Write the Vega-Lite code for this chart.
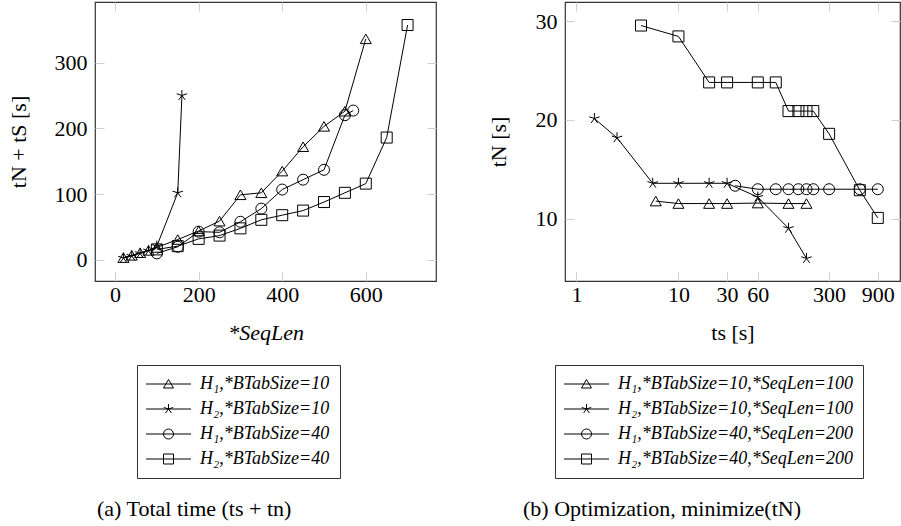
{
  "$schema": "https://vega.github.io/schema/vega-lite/v6.json",
  "background": "white",
  "autosize": {"type": "pad"},
  "padding": {"left": 6, "top": 0, "right": 0, "bottom": 0},
  "config": {
    "view": {"stroke": "#333", "strokeWidth": 1.2},
    "font": "Liberation Serif",
    "axis": {
      "labelFont": "Liberation Serif", "titleFont": "Liberation Serif",
      "labelFontSize": 22, "titleFontSize": 22, "labelColor": "black", "titleColor": "black",
      "titleFontWeight": "normal", "grid": false, "domain": false,
      "tickColor": "#cfcfcf", "tickSize": -9, "tickWidth": 1,
      "labelFlush": false, "labelOverlap": false
    },
    "title": {"font": "Liberation Serif", "fontSize": 22, "fontWeight": "normal", "color": "black"}
  },
  "datasets": {
    "a": [
      {"s": "H₁,*BTabSize=10", "x": 20, "y": 3.5},
      {"s": "H₁,*BTabSize=10", "x": 40, "y": 7},
      {"s": "H₁,*BTabSize=10", "x": 60, "y": 11},
      {"s": "H₁,*BTabSize=10", "x": 80, "y": 14.5},
      {"s": "H₁,*BTabSize=10", "x": 100, "y": 19},
      {"s": "H₁,*BTabSize=10", "x": 150, "y": 31},
      {"s": "H₁,*BTabSize=10", "x": 200, "y": 44},
      {"s": "H₁,*BTabSize=10", "x": 250, "y": 59},
      {"s": "H₁,*BTabSize=10", "x": 300, "y": 99},
      {"s": "H₁,*BTabSize=10", "x": 350, "y": 102},
      {"s": "H₁,*BTabSize=10", "x": 400, "y": 135},
      {"s": "H₁,*BTabSize=10", "x": 450, "y": 172},
      {"s": "H₁,*BTabSize=10", "x": 500, "y": 203},
      {"s": "H₁,*BTabSize=10", "x": 550, "y": 226},
      {"s": "H₁,*BTabSize=10", "x": 600, "y": 336},
      {"s": "H₂,*BTabSize=10", "x": 20, "y": 3},
      {"s": "H₂,*BTabSize=10", "x": 40, "y": 6},
      {"s": "H₂,*BTabSize=10", "x": 60, "y": 10},
      {"s": "H₂,*BTabSize=10", "x": 80, "y": 14},
      {"s": "H₂,*BTabSize=10", "x": 100, "y": 21},
      {"s": "H₂,*BTabSize=10", "x": 150, "y": 102},
      {"s": "H₂,*BTabSize=10", "x": 160, "y": 250},
      {"s": "H₁,*BTabSize=40", "x": 100, "y": 10},
      {"s": "H₁,*BTabSize=40", "x": 150, "y": 20},
      {"s": "H₁,*BTabSize=40", "x": 200, "y": 43},
      {"s": "H₁,*BTabSize=40", "x": 250, "y": 42},
      {"s": "H₁,*BTabSize=40", "x": 300, "y": 58},
      {"s": "H₁,*BTabSize=40", "x": 350, "y": 78},
      {"s": "H₁,*BTabSize=40", "x": 400, "y": 107},
      {"s": "H₁,*BTabSize=40", "x": 450, "y": 122},
      {"s": "H₁,*BTabSize=40", "x": 500, "y": 137},
      {"s": "H₁,*BTabSize=40", "x": 550, "y": 220},
      {"s": "H₁,*BTabSize=40", "x": 570, "y": 227},
      {"s": "H₂,*BTabSize=40", "x": 100, "y": 16},
      {"s": "H₂,*BTabSize=40", "x": 150, "y": 21},
      {"s": "H₂,*BTabSize=40", "x": 200, "y": 32},
      {"s": "H₂,*BTabSize=40", "x": 250, "y": 37},
      {"s": "H₂,*BTabSize=40", "x": 300, "y": 48},
      {"s": "H₂,*BTabSize=40", "x": 350, "y": 61},
      {"s": "H₂,*BTabSize=40", "x": 400, "y": 68},
      {"s": "H₂,*BTabSize=40", "x": 450, "y": 75},
      {"s": "H₂,*BTabSize=40", "x": 500, "y": 88},
      {"s": "H₂,*BTabSize=40", "x": 550, "y": 102},
      {"s": "H₂,*BTabSize=40", "x": 600, "y": 116},
      {"s": "H₂,*BTabSize=40", "x": 650, "y": 186},
      {"s": "H₂,*BTabSize=40", "x": 700, "y": 357}
    ],
    "b": [
      {"s": "H₁,*BTabSize=10,*SeqLen=100", "x": 6, "y": 11.8},
      {"s": "H₁,*BTabSize=10,*SeqLen=100", "x": 10, "y": 11.55},
      {"s": "H₁,*BTabSize=10,*SeqLen=100", "x": 20, "y": 11.55},
      {"s": "H₁,*BTabSize=10,*SeqLen=100", "x": 30, "y": 11.55},
      {"s": "H₁,*BTabSize=10,*SeqLen=100", "x": 60, "y": 11.6},
      {"s": "H₁,*BTabSize=10,*SeqLen=100", "x": 120, "y": 11.55},
      {"s": "H₁,*BTabSize=10,*SeqLen=100", "x": 180, "y": 11.55},
      {"s": "H₂,*BTabSize=10,*SeqLen=100", "x": 1.5, "y": 20.15},
      {"s": "H₂,*BTabSize=10,*SeqLen=100", "x": 2.5, "y": 18.2},
      {"s": "H₂,*BTabSize=10,*SeqLen=100", "x": 5.6, "y": 13.6},
      {"s": "H₂,*BTabSize=10,*SeqLen=100", "x": 10, "y": 13.6},
      {"s": "H₂,*BTabSize=10,*SeqLen=100", "x": 20, "y": 13.6},
      {"s": "H₂,*BTabSize=10,*SeqLen=100", "x": 30, "y": 13.6},
      {"s": "H₂,*BTabSize=10,*SeqLen=100", "x": 60, "y": 12.2},
      {"s": "H₂,*BTabSize=10,*SeqLen=100", "x": 120, "y": 9.05},
      {"s": "H₂,*BTabSize=10,*SeqLen=100", "x": 180, "y": 6.0},
      {"s": "H₁,*BTabSize=40,*SeqLen=200", "x": 36, "y": 13.35},
      {"s": "H₁,*BTabSize=40,*SeqLen=200", "x": 60, "y": 13.0},
      {"s": "H₁,*BTabSize=40,*SeqLen=200", "x": 90, "y": 13.0},
      {"s": "H₁,*BTabSize=40,*SeqLen=200", "x": 120, "y": 13.0},
      {"s": "H₁,*BTabSize=40,*SeqLen=200", "x": 150, "y": 13.0},
      {"s": "H₁,*BTabSize=40,*SeqLen=200", "x": 180, "y": 13.0},
      {"s": "H₁,*BTabSize=40,*SeqLen=200", "x": 210, "y": 13.0},
      {"s": "H₁,*BTabSize=40,*SeqLen=200", "x": 300, "y": 13.0},
      {"s": "H₁,*BTabSize=40,*SeqLen=200", "x": 600, "y": 13.0},
      {"s": "H₁,*BTabSize=40,*SeqLen=200", "x": 900, "y": 13.0},
      {"s": "H₂,*BTabSize=40,*SeqLen=200", "x": 4.3, "y": 29.55},
      {"s": "H₂,*BTabSize=40,*SeqLen=200", "x": 10, "y": 28.45},
      {"s": "H₂,*BTabSize=40,*SeqLen=200", "x": 20, "y": 23.8},
      {"s": "H₂,*BTabSize=40,*SeqLen=200", "x": 30, "y": 23.8},
      {"s": "H₂,*BTabSize=40,*SeqLen=200", "x": 60, "y": 23.8},
      {"s": "H₂,*BTabSize=40,*SeqLen=200", "x": 90, "y": 23.8},
      {"s": "H₂,*BTabSize=40,*SeqLen=200", "x": 120, "y": 20.9},
      {"s": "H₂,*BTabSize=40,*SeqLen=200", "x": 150, "y": 20.9},
      {"s": "H₂,*BTabSize=40,*SeqLen=200", "x": 180, "y": 20.9},
      {"s": "H₂,*BTabSize=40,*SeqLen=200", "x": 210, "y": 20.9},
      {"s": "H₂,*BTabSize=40,*SeqLen=200", "x": 300, "y": 18.6},
      {"s": "H₂,*BTabSize=40,*SeqLen=200", "x": 600, "y": 12.9},
      {"s": "H₂,*BTabSize=40,*SeqLen=200", "x": 900, "y": 10.1}
    ]
  },
  "spacing": 129,
  "bounds": "flush",
  "resolve": {"scale": {"shape": "independent", "x": "independent", "y": "independent"}, "legend": {"shape": "independent"}},
  "hconcat": [
    {
      "width": 341,
      "height": 279,
      "data": {"name": "a"},
      "title": {"text": "(a) Total time (ts + tn)", "orient": "bottom", "anchor": "start", "frame": "group", "dx": 2, "offset": 20},
      "resolve": {"scale": {"shape": "independent"}, "axis": {"x": "independent", "y": "independent"}},
      "layer": [
        {
          "mark": {"type": "line", "color": "black", "strokeWidth": 1},
          "encoding": {
            "x": {"field": "x", "type": "quantitative", "scale": {"domain": [-48, 768], "nice": false, "zero": false},
                  "axis": {"values": [0, 200, 400, 600], "title": "*SeqLen", "titleFontStyle": "italic", "labelPadding": 12, "titlePadding": 17}},
            "y": {"field": "y", "type": "quantitative", "scale": {"domain": [-32, 392], "nice": false, "zero": false},
                  "axis": {"values": [0, 100, 200, 300], "title": "tN + tS [s]", "labelPadding": 17, "titlePadding": 24}},
            "detail": {"field": "s", "type": "nominal"}
          }
        },
        {
          "mark": {"type": "point", "filled": false, "color": "black", "strokeWidth": 1, "size": 121, "opacity": 1},
          "encoding": {
            "x": {"field": "x", "type": "quantitative", "scale": {"domain": [-48, 768], "nice": false, "zero": false},
                  "axis": {"orient": "top", "values": [0, 200, 400, 600], "labels": false, "title": null}},
            "y": {"field": "y", "type": "quantitative", "scale": {"domain": [-32, 392], "nice": false, "zero": false},
                  "axis": {"orient": "right", "values": [0, 100, 200, 300], "labels": false, "title": null}},
            "shape": {"field": "s", "type": "nominal",
                      "scale": {"domain": ["H₁,*BTabSize=10", "H₂,*BTabSize=10", "H₁,*BTabSize=40", "H₂,*BTabSize=40"],
                                "range": ["triangle-up", "M0,0L0,-1M0,0L-0.951,-0.309M0,0L-0.588,0.809M0,0L0.588,0.809M0,0L0.951,-0.309", "circle", "square"]},
                      "legend": null}
          }
        },
        {
          "mark": {"type": "point", "filled": false, "color": "black", "strokeWidth": 1, "size": 100, "opacity": 0},
          "encoding": {
            "x": {"field": "x", "type": "quantitative", "scale": {"domain": [-48, 768], "nice": false, "zero": false}, "axis": null},
            "y": {"field": "y", "type": "quantitative", "scale": {"domain": [-32, 392], "nice": false, "zero": false}, "axis": null},
            "shape": {"field": "s", "type": "nominal",
                      "scale": {"domain": ["H₁,*BTabSize=10", "H₂,*BTabSize=10", "H₁,*BTabSize=40", "H₂,*BTabSize=40"],
                                "range": [
                                  "M-2,0L7,0M1.5,0.8L2.5,-0.9L3.5,0.8Z",
                                  "M-2,0L7,0M2.5,0L2.5,-1M2.5,0L1.549,-0.309M2.5,0L1.912,0.809M2.5,0L3.088,0.809M2.5,0L3.451,-0.309",
                                  "M-2,0L7,0M3.5,0C3.5,0.552 3.052,1 2.5,1C1.948,1 1.5,0.552 1.5,0C1.5,-0.552 1.948,-1 2.5,-1C3.052,-1 3.5,-0.552 3.5,0Z",
                                  "M-2,0L7,0M1.5,-1L3.5,-1L3.5,1L1.5,1Z"]},
                      "legend": {"orient": "none", "legendX": 42, "legendY": 363, "title": null, "strokeColor": "#333", "fillColor": "white", "padding": 10,
                                 "labelFont": "Liberation Serif", "labelFontStyle": "italic", "labelFontSize": 18, "labelColor": "black", "labelOffset": 35, "labelLimit": 500,
                                 "rowPadding": 7, "symbolSize": 100, "symbolStrokeColor": "black", "symbolStrokeWidth": 1, "symbolFillColor": "transparent", "symbolOpacity": 1}}
          }
        }
      ]
    },
    {
      "width": 335,
      "height": 279,
      "data": {"name": "b"},
      "title": {"text": "(b) Optimization, minimize(tN)", "orient": "bottom", "anchor": "start", "frame": "group", "dx": -42, "offset": 20},
      "resolve": {"scale": {"shape": "independent"}, "axis": {"x": "independent", "y": "independent"}},
      "layer": [
        {
          "mark": {"type": "line", "color": "black", "strokeWidth": 1},
          "encoding": {
            "x": {"field": "x", "type": "quantitative", "scale": {"type": "log", "domain": [0.773, 1486], "nice": false},
                  "axis": {"values": [1, 10, 30, 60, 300, 900], "format": "d", "title": "ts [s]", "labelPadding": 12, "titlePadding": 17}},
            "y": {"field": "y", "type": "quantitative", "scale": {"domain": [3.72, 31.93], "nice": false, "zero": false},
                  "axis": {"values": [10, 20, 30], "title": "tN [s]", "labelPadding": 17, "titlePadding": 25}},
            "detail": {"field": "s", "type": "nominal"}
          }
        },
        {
          "mark": {"type": "point", "filled": false, "color": "black", "strokeWidth": 1, "size": 121, "opacity": 1},
          "encoding": {
            "x": {"field": "x", "type": "quantitative", "scale": {"type": "log", "domain": [0.773, 1486], "nice": false},
                  "axis": {"orient": "top", "values": [1, 10, 30, 60, 300, 900], "labels": false, "title": null}},
            "y": {"field": "y", "type": "quantitative", "scale": {"domain": [3.72, 31.93], "nice": false, "zero": false},
                  "axis": {"orient": "right", "values": [10, 20, 30], "labels": false, "title": null}},
            "shape": {"field": "s", "type": "nominal",
                      "scale": {"domain": ["H₁,*BTabSize=10,*SeqLen=100", "H₂,*BTabSize=10,*SeqLen=100", "H₁,*BTabSize=40,*SeqLen=200", "H₂,*BTabSize=40,*SeqLen=200"],
                                "range": ["triangle-up", "M0,0L0,-1M0,0L-0.951,-0.309M0,0L-0.588,0.809M0,0L0.588,0.809M0,0L0.951,-0.309", "circle", "square"]},
                      "legend": null}
          }
        },
        {
          "mark": {"type": "point", "filled": false, "color": "black", "strokeWidth": 1, "size": 100, "opacity": 0},
          "encoding": {
            "x": {"field": "x", "type": "quantitative", "scale": {"type": "log", "domain": [0.773, 1486], "nice": false}, "axis": null},
            "y": {"field": "y", "type": "quantitative", "scale": {"domain": [3.72, 31.93], "nice": false, "zero": false}, "axis": null},
            "shape": {"field": "s", "type": "nominal",
                      "scale": {"domain": ["H₁,*BTabSize=10,*SeqLen=100", "H₂,*BTabSize=10,*SeqLen=100", "H₁,*BTabSize=40,*SeqLen=200", "H₂,*BTabSize=40,*SeqLen=200"],
                                "range": [
                                  "M-2,0L7,0M1.5,0.8L2.5,-0.9L3.5,0.8Z",
                                  "M-2,0L7,0M2.5,0L2.5,-1M2.5,0L1.549,-0.309M2.5,0L1.912,0.809M2.5,0L3.088,0.809M2.5,0L3.451,-0.309",
                                  "M-2,0L7,0M3.5,0C3.5,0.552 3.052,1 2.5,1C1.948,1 1.5,0.552 1.5,0C1.5,-0.552 1.948,-1 2.5,-1C3.052,-1 3.5,-0.552 3.5,0Z",
                                  "M-2,0L7,0M1.5,-1L3.5,-1L3.5,1L1.5,1Z"]},
                      "legend": {"orient": "none", "legendX": -10, "legendY": 363, "title": null, "strokeColor": "#333", "fillColor": "white", "padding": 10,
                                 "labelFont": "Liberation Serif", "labelFontStyle": "italic", "labelFontSize": 18, "labelColor": "black", "labelOffset": 35, "labelLimit": 500,
                                 "rowPadding": 7, "symbolSize": 100, "symbolStrokeColor": "black", "symbolStrokeWidth": 1, "symbolFillColor": "transparent", "symbolOpacity": 1}}
          }
        }
      ]
    }
  ]
}
